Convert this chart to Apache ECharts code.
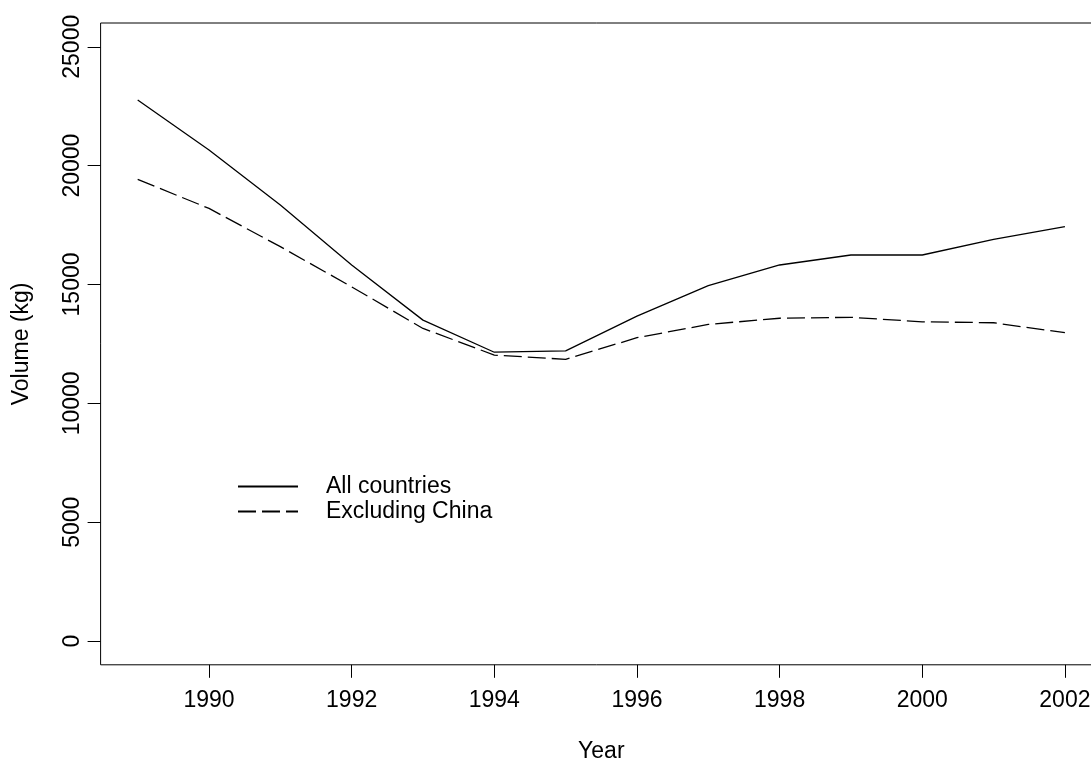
<!DOCTYPE html>
<html>
<head>
<meta charset="utf-8">
<script src="https://cdn.jsdelivr.net/npm/echarts@6/dist/echarts.min.js"></script>
<style>
html,body{margin:0;padding:0;background:#fff;}
#chart{width:1091px;height:758px;}
</style>
</head>
<body>
<div id="chart"></div>
<script>
const years = [1989,1990,1991,1992,1993,1994,1995,1996,1997,1998,1999,2000,2001,2002];
const allCountries = [22760,20660,18340,15820,13500,12150,12210,13670,14950,15820,16240,16240,16900,17430];
const excludingChina = [19420,18200,16590,14900,13150,12030,11850,12760,13320,13580,13620,13430,13390,12970];
const xTicks = [1990,1992,1994,1996,1998,2000,2002];
const yTicks = [0,5000,10000,15000,20000,25000];
const seriesNames = ['All countries','Excluding China'];
const xTitle = 'Year';
const yTitle = 'Volume (kg)';

const font = 'Liberation Sans, Arial, Helvetica, sans-serif';
const fs = 23;
const chart = echarts.init(document.getElementById('chart'), null, {renderer:'canvas'});
chart.setOption({
  backgroundColor:'#fff',
  animation:false,
  grid:{left:100.6, top:23, width:1001.4, height:641.8, show:true, borderColor:'#000', borderWidth:1,
        backgroundColor:'transparent', containLabel:false, outerBoundsMode:'none'},
  legend:{
    left:237, top:475, orient:'vertical', padding:0,
    itemWidth:60, itemHeight:20, itemGap:2,
    itemStyle:{opacity:0},
    textStyle:{fontFamily:font, fontSize:fs, color:'#000', padding:[0,0,0,23]},
    data:seriesNames
  },
  xAxis:{
    type:'value', min:1988.48, max:2002.52,
    name:xTitle, nameLocation:'middle', nameGap:75,
    nameTextStyle:{fontFamily:font, fontSize:fs, color:'#000', verticalAlign:'top'},
    axisLine:{show:false, onZero:false},
    axisTick:{show:true, inside:false, length:13, lineStyle:{color:'#000', width:1}, customValues:xTicks},
    axisLabel:{fontFamily:font, fontSize:fs, color:'#000', margin:24, customValues:xTicks, formatter:v=>String(v)},
    splitLine:{show:false}
  },
  yAxis:{
    type:'value', min:-1000, max:26000,
    name:yTitle, nameLocation:'middle', nameGap:67, nameRotate:90,
    nameTextStyle:{fontFamily:font, fontSize:fs, color:'#000'},
    axisLine:{show:false, onZero:false},
    axisTick:{show:true, inside:false, length:13, lineStyle:{color:'#000', width:1}, customValues:yTicks},
    axisLabel:{fontFamily:font, fontSize:fs, color:'#000', margin:16, rotate:90, customValues:yTicks, formatter:v=>String(v)},
    splitLine:{show:false}
  },
  series:[
    {name:seriesNames[0], type:'line', symbol:'none', data:years.map((y,i)=>[y,allCountries[i]]),
     lineStyle:{color:'#000', width:1.3, type:'solid'}, itemStyle:{color:'#000'}},
    {name:seriesNames[1], type:'line', symbol:'none', data:years.map((y,i)=>[y,excludingChina[i]]),
     lineStyle:{color:'#000', width:1.3, type:[18,6]}, itemStyle:{color:'#000'}}
  ]
});
</script>
</body>
</html>
